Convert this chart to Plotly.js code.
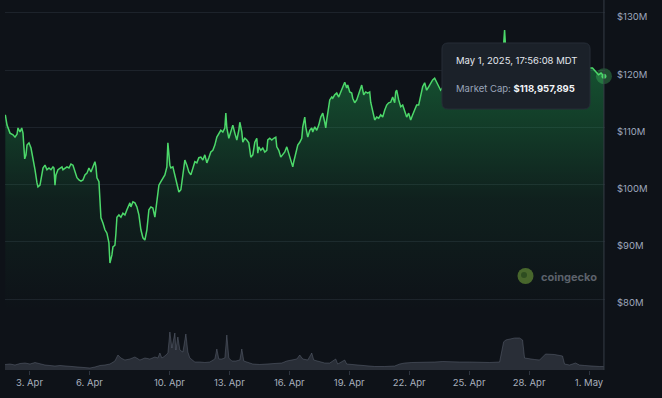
<!DOCTYPE html>
<html><head><meta charset="utf-8">
<script src="https://cdn.plot.ly/plotly-3.0.1.min.js"></script>
<style>html,body{margin:0;padding:0;background:#0e1218;}#chart{width:662px;height:398px;}</style>
</head><body><div id="chart"></div>
<script>
// Days since 2025-04-01 00:00 (local MDT) and market cap in $M
const priceDays = [0.79,0.875,1.025,1.175,1.275,1.375,1.425,1.525,1.61,1.675,1.76,1.825,1.875,1.975,2.075,2.175,2.275,2.375,2.425,2.525,2.575,2.675,2.775,2.875,2.975,3.075,3.175,3.225,3.275,3.325,3.425,3.525,3.625,3.675,3.775,3.875,3.975,4.075,4.175,4.275,4.375,4.475,4.575,4.675,4.775,4.875,4.975,5.075,5.175,5.275,5.325,5.375,5.475,5.525,5.575,5.675,5.775,5.875,5.925,5.975,6.025,6.125,6.175,6.275,6.325,6.375,6.475,6.575,6.675,6.775,6.875,7.025,7.075,7.175,7.275,7.375,7.475,7.525,7.575,7.675,7.775,7.875,7.975,8.075,8.175,8.275,8.325,8.375,8.475,8.575,8.675,8.775,8.875,8.925,9.025,9.075,9.175,9.275,9.375,9.475,9.575,9.675,9.775,9.875,9.975,10.075,10.175,10.275,10.375,10.475,10.575,10.675,10.775,10.875,10.975,11.075,11.175,11.275,11.375,11.475,11.575,11.675,11.775,11.825,11.875,11.975,12.075,12.175,12.275,12.375,12.475,12.525,12.625,12.675,12.775,12.875,12.975,13.075,13.175,13.275,13.375,13.425,13.475,13.575,13.675,13.775,13.875,13.925,14.025,14.125,14.225,14.325,14.375,14.475,14.575,14.675,14.775,14.875,14.975,15.075,15.175,15.225,15.325,15.425,15.525,15.625,15.675,15.775,15.825,15.925,16.025,16.125,16.175,16.275,16.375,16.475,16.575,16.675,16.775,16.825,16.875,16.925,17.025,17.125,17.175,17.275,17.375,17.475,17.575,17.675,17.775,17.875,17.925,18.025,18.125,18.175,18.275,18.375,18.425,18.525,18.625,18.725,18.825,18.925,19.025,19.075,19.175,19.275,19.375,19.475,19.575,19.675,19.775,19.875,19.975,20.075,20.175,20.275,20.325,20.375,20.475,20.575,20.675,20.775,20.875,20.975,21.075,21.175,21.275,21.375,21.475,21.575,21.675,21.775,21.875,21.975,22.075,22.175,22.275,22.375,22.475,22.575,22.775,23.025,23.275,23.525,23.775,24.025,24.275,24.525,24.775,25.025,25.275,25.525,25.675,25.775,25.875,26.025,26.275,26.525,26.775,27.025,27.275,27.525,27.775,28.025,28.275,28.525,28.775,29.025,29.275,29.525,29.775,30.025,30.175,30.275,30.375,30.475,30.6,30.747];
const marketCapM = [112.2,110.4,109.0,108.7,108.3,108.8,109.9,109.2,109.9,109.0,
104.5,105.2,106.9,107.3,106.4,104.7,102.6,100.3,99.6,99.9,
101.2,102.9,103.4,102.6,102.9,102.6,103.1,102.9,99.9,101.7,
102.6,102.9,103.1,102.6,102.9,103.1,102.9,103.6,103.4,102.2,
101.2,100.8,100.6,100.8,101.7,102.0,102.9,102.2,103.1,104.0,
103.1,101.2,100.5,97.3,94.2,93.3,92.1,91.5,90.3,89.8,
86.3,87.7,89.1,89.4,91.5,94.3,94.7,94.3,95.0,94.7,
95.6,96.8,96.1,97.0,96.8,96.1,94.7,93.3,92.1,90.7,
90.3,92.1,95.6,96.1,95.9,94.3,95.9,97.0,99.9,100.5,
101.2,101.7,103.1,107.3,103.4,102.9,103.1,101.7,100.3,98.7,
99.1,101.3,104.3,103.4,102.2,101.7,103.1,104.0,103.8,104.7,
104.8,104.3,105.2,103.8,104.7,105.7,106.0,106.9,108.3,109.0,
109.5,109.2,109.9,112.5,109.9,108.1,109.2,110.4,109.0,107.8,
109.5,110.9,109.2,107.4,108.1,107.8,107.3,104.8,105.2,107.4,
108.1,105.5,106.6,106.0,106.4,105.7,106.0,107.8,108.1,107.8,
108.1,108.3,106.6,106.0,104.8,105.2,105.7,106.6,105.5,104.3,
103.1,104.0,105.5,106.9,107.4,108.1,110.1,111.8,110.1,108.3,
109.5,109.9,109.2,110.1,109.5,110.4,111.8,112.5,110.9,109.9,
111.3,112.7,114.8,115.3,115.1,115.7,116.0,115.3,116.2,116.9,
117.9,116.9,117.4,116.2,116.0,115.1,114.3,114.8,115.3,116.0,
117.4,115.7,116.2,116.0,116.2,114.4,113.0,111.3,111.8,111.6,
112.2,111.8,113.0,113.9,114.3,114.4,115.3,114.3,116.2,116.5,
114.8,113.6,113.9,113.0,111.8,112.5,111.3,112.2,113.0,113.9,
113.9,115.7,117.1,117.8,116.5,117.1,117.8,118.3,118.6,117.9,117.1,116.5,
117.4,118.3,117.6,118.6,117.9,119.0,118.3,119.3,118.6,119.7,119.0,120.0,121.8,127.0,120.9,119.7,118.6,119.3,118.3,119.0,117.9,118.6,117.6,118.3,119.0,118.3,119.3,118.6,119.7,119.0,120.0,120.4,
120.4,120.0,119.5,119.2,119.5,118.957895];

// 24h volume (relative, $M)
const volumeDays = [0.775,1.025,1.275,1.525,1.775,2.025,2.275,2.525,2.775,3.025,3.275,3.525,3.775,4.025,4.275,4.525,4.775,5.025,5.275,5.525,5.775,6.025,6.275,6.425,6.575,6.775,7.025,7.275,7.525,7.775,8.025,8.275,8.425,8.525,8.625,8.775,8.925,9.025,9.125,9.275,9.325,9.425,9.525,9.675,9.825,9.925,10.025,10.275,10.525,10.775,11.025,11.175,11.275,11.375,11.475,11.625,11.775,11.875,11.975,12.125,12.325,12.525,12.625,12.725,12.925,13.175,13.525,13.925,14.275,14.625,14.875,15.125,15.375,15.525,15.675,15.925,16.125,16.225,16.525,16.775,17.025,17.325,17.425,17.775,17.875,18.125,18.425,18.675,18.925,19.275,19.775,20.275,20.525,20.775,21.125,21.525,21.925,22.275,22.675,23.125,23.525,24.025,24.525,25.025,25.525,25.725,25.825,26.025,26.275,26.525,26.675,26.775,27.025,27.275,27.525,27.725,27.825,28.275,28.525,28.675,28.775,29.025,29.325,29.525,29.775,30.025,30.275,30.525,30.747];
const volumeM = [5.5,6,5,6.5,7,6,7.5,6,5,4.5,4,4.5,4,3.5,3,2.5,2,2,3,4.5,5,6,9,15,12,10,11,13,10,12,11,13,12,17,12,14,17,38,22,37,20,33,20,18,36,18,12,8,8,7.5,8,10,11,21,11,11,12,35,12,9,9,10,21,9,8,6,5.5,6,6.5,7,9,10,11,15,11,10,17,10,8,7,7,11,6,10,6,5.5,5,4.5,4,3.5,3.5,4,6,7,7.5,7.5,8,8,8.5,8,8,8,7.5,7.5,8,28,30,31,32,32,30,12,11,10.5,10,14,16,15.5,15,14,6,5,7,5,4.5,4,3.5,3.5,3.5];

const tickDays = [2,5,9,12,15,18,21,24,27,30];
const tickLabels = ['3. Apr','6. Apr','10. Apr','13. Apr','16. Apr','19. Apr','22. Apr','25. Apr','28. Apr','1. May'];
const yTickVals = [80,90,100,110,120,130];
const yTickLabels = ['$80M','$90M','$100M','$110M','$120M','$130M'];
const tooltipDate = 'May 1, 2025, 17:56:08 MDT';

const BASE = Date.UTC(2025,3,1);
function dayToStr(d){ return new Date(BASE + d*86400000).toISOString().replace('T',' ').slice(0,19); }

const priceX = priceDays.map(dayToStr);
const volX = volumeDays.map(dayToStr);
const lastX = priceX[priceX.length-1];
const lastVal = marketCapM[marketCapM.length-1];
const capText = '$' + Math.round(lastVal*1e6).toLocaleString('en-US');

const GREEN = '#4cd86a';
const W = 600, H = 370, L = 5;
const px = x => (x - L)/W;
const py = y => (H - y)/H;

const data = [
  {type:'scatter', mode:'lines', x:priceX, y:marketCapM, line:{color:GREEN, width:1.5},
   fill:'tozeroy',
   fillgradient:{type:'vertical', start:78, stop:121,
     colorscale:[[0,'rgba(34,197,94,0)'],[0.45,'rgba(34,197,94,0.08)'],[1,'rgba(34,197,94,0.36)']]},
   hoverinfo:'skip'},
  {type:'scatter', mode:'lines', x:volX, y:volumeM, yaxis:'y2',
   line:{color:'rgba(120,130,145,0.45)', width:0.8}, fill:'tozeroy', fillcolor:'rgba(110,120,135,0.28)', hoverinfo:'skip'},
  {type:'scatter', mode:'markers', x:[lastX], y:[lastVal], cliponaxis:false,
   marker:{size:16, color:'rgba(76,216,106,0.3)'}, hoverinfo:'skip'},
  {type:'scatter', mode:'markers', x:[lastX], y:[lastVal], cliponaxis:false,
   marker:{size:5, color:GREEN}, hoverinfo:'skip'}
];

const r = 6, hw = 74, hh = 33;
const boxPath = `M ${-hw+r},${-hh} L ${hw-r},${-hh} Q ${hw},${-hh} ${hw},${-hh+r} L ${hw},${hh-r} Q ${hw},${hh} ${hw-r},${hh} L ${-hw+r},${hh} Q ${-hw},${hh} ${-hw},${hh-r} L ${-hw},${-hh+r} Q ${-hw},${-hh} ${-hw+r},${-hh} Z`;

const layout = {
  width:662, height:398,
  paper_bgcolor:'#0e1218', plot_bgcolor:'#0e1218',
  margin:{l:5, r:57, t:0, b:28, pad:0},
  showlegend:false, hovermode:false,
  font:{family:'Inter, "Noto Sans", sans-serif', color:'#a4acba'},
  xaxis:{type:'date', range:[dayToStr(0.774), dayToStr(30.80)],
    tickmode:'array', tickvals:tickDays.map(dayToStr), ticktext:tickLabels,
    showgrid:false, zeroline:false, showline:false,
    ticks:'outside', ticklen:4, tickcolor:'#2f3641',
    tickfont:{size:9.5, color:'#a9b1be'}, fixedrange:true},
  yaxis:{side:'right', range:[67.59,132.27], tickmode:'array', tickvals:yTickVals, ticktext:yTickLabels,
    gridcolor:'#1d232b', gridwidth:1, zeroline:false, showline:false, ticks:'',
    ticklabelstandoff:11, ticklabelshift:4,
    tickfont:{size:9.5, color:'#9ea8bd'}, fixedrange:true},
  yaxis2:{overlaying:'y', range:[0,370], visible:false, fixedrange:true},
  shapes:[
    {type:'line', xref:'x', yref:'paper', x0:lastX, x1:lastX, y0:0, y1:1,
     line:{color:'#363d47', width:1}, layer:'above'},
    {type:'path', xref:'paper', yref:'paper', xsizemode:'pixel', ysizemode:'pixel',
     xanchor:px(516), yanchor:py(76), path:boxPath,
     fillcolor:'#1b2129', line:{color:'#262d37', width:1}, layer:'above'},
    {type:'circle', xref:'paper', yref:'paper', xsizemode:'pixel', ysizemode:'pixel',
     xanchor:px(525.5), yanchor:py(276), x0:-8, x1:8, y0:-8, y1:8,
     fillcolor:'rgba(120,170,60,0.55)', line:{width:0}, layer:'above'},
    {type:'circle', xref:'paper', yref:'paper', xsizemode:'pixel', ysizemode:'pixel',
     xanchor:px(524), yanchor:py(275), x0:-3, x1:3, y0:-3, y1:3,
     fillcolor:'rgba(30,60,25,0.6)', line:{width:0}, layer:'above'}
  ],
  annotations:[
    {xref:'paper', yref:'paper', x:px(454), y:py(60), xanchor:'left', yanchor:'middle', showarrow:false,
     text:tooltipDate, font:{size:9.5, color:'#e3e7ee'}},
    {xref:'paper', yref:'paper', x:px(454), y:py(88), xanchor:'left', yanchor:'middle', showarrow:false,
     text:`<span style="color:#9aa5b9">Market Cap:</span> <b>${capText}</b>`, font:{size:9.5, color:'#f2f4f7'}},
    {xref:'paper', yref:'paper', x:px(539), y:py(277), xanchor:'left', yanchor:'middle', showarrow:false,
     text:'<b>coingecko</b>', font:{size:11, color:'#5c626b'}}
  ]
};

Plotly.newPlot('chart', data, layout, {displayModeBar:false, staticPlot:true});
</script></body></html>
